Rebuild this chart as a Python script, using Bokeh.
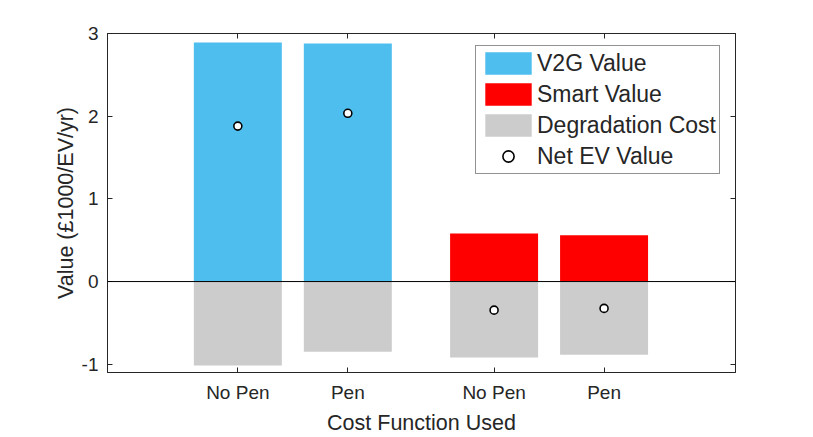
from bokeh.plotting import figure
from bokeh.models import (Range1d, FixedTicker, LinearAxis, Span, Legend,
                          LegendItem, ColumnDataSource)
from bokeh.embed import file_html
from bokeh.resources import INLINE

# ---- data ----
positions = [1, 2, 3.33, 4.33]
tick_labels = ["No Pen", "Pen", "No Pen", "Pen"]
v2g_value = [2.89, 2.88, 0.0, 0.0]
smart_value = [0.0, 0.0, 0.58, 0.56]
degradation_cost = [-1.015, -0.848, -0.92, -0.884]
net_ev_value = [1.88, 2.035, -0.346, -0.325]
y_ticks = [-1, 0, 1, 2, 3]
y_tick_labels = ["-1", "0", "1", "2", "3"]

FONT = "Liberation Sans"
TXT = "#262626"

src = ColumnDataSource(dict(x=positions, v2g=v2g_value, smart=smart_value,
                            deg=degradation_cost, net=net_ev_value))

p = figure(width=813, height=437,
           x_range=Range1d(-0.185, 5.525), y_range=Range1d(-1.1, 3),
           output_backend="svg", toolbar_location=None,
           min_border_left=107, min_border_right=78,
           min_border_top=33, min_border_bottom=64)

p.xgrid.visible = False
p.ygrid.visible = False
p.outline_line_color = TXT
p.outline_line_width = 1
p.background_fill_color = "white"
p.border_fill_color = "white"

r_v2g = p.vbar(x="x", top="v2g", bottom=0, width=0.8, source=src,
               fill_color="#4DBEEE", line_color=None)
r_smart = p.vbar(x="x", top="smart", bottom=0, width=0.8, source=src,
                 fill_color="#FF0000", line_color=None)
r_deg = p.vbar(x="x", top=0, bottom="deg", width=0.8, source=src,
               fill_color="#CCCCCC", line_color=None)

p.add_layout(Span(location=0, dimension="width", line_color="black",
                  line_width=1))

r_net = p.scatter(x="x", y="net", source=src, size=8, marker="circle",
                  fill_color="white", line_color="black", line_width=1.6)

# bottom axis
xa = p.xaxis[0]
xa.ticker = FixedTicker(ticks=positions)
xa.major_label_overrides = {pos: lab for pos, lab in zip(positions, tick_labels)}
xa.axis_label = "Cost Function Used"

# left axis
ya = p.yaxis[0]
ya.ticker = FixedTicker(ticks=y_ticks)
ya.major_label_overrides = {t: lab for t, lab in zip(y_ticks, y_tick_labels)}
ya.axis_label = "Value (£1000/EV/yr)"

for ax in (xa, ya):
    ax.major_tick_in = 5
    ax.major_tick_out = 0
    ax.minor_tick_line_color = None
    ax.axis_line_color = TXT
    ax.major_tick_line_color = TXT
    ax.major_label_text_font = FONT
    ax.major_label_text_font_size = "19px"
    ax.major_label_text_color = TXT
    ax.axis_label_text_font = FONT
    ax.axis_label_text_font_size = "21.5px"
    ax.axis_label_text_font_style = "normal"
    ax.axis_label_text_color = TXT
    ax.major_label_standoff = 9

xa.axis_label_standoff = 5
ya.axis_label_standoff = 1

# mirrored axes (box with ticks, no labels)
top = LinearAxis(ticker=FixedTicker(ticks=positions))
right = LinearAxis(ticker=FixedTicker(ticks=y_ticks))
for ax in (top, right):
    ax.major_tick_in = 5
    ax.major_tick_out = 0
    ax.minor_tick_line_color = None
    ax.axis_line_color = TXT
    ax.major_tick_line_color = TXT
    ax.major_label_text_color = None
    ax.major_label_text_alpha = 0
    ax.major_label_text_font_size = "0px"
    ax.major_label_standoff = 0
p.add_layout(top, "above")
p.add_layout(right, "right")

legend = Legend(items=[
    LegendItem(label="V2G Value", renderers=[r_v2g]),
    LegendItem(label="Smart Value", renderers=[r_smart]),
    LegendItem(label="Degradation Cost", renderers=[r_deg]),
    LegendItem(label="Net EV Value", renderers=[r_net]),
], location=(368, 198))
legend.label_text_font = FONT
legend.label_text_font_size = "23px"
legend.label_text_color = TXT
legend.glyph_width = 58
legend.glyph_height = 28
legend.label_height = 28
legend.spacing = 3
legend.padding = 3
legend.margin = 0
legend.label_standoff = 0
legend.border_line_color = TXT
legend.border_line_width = 1
legend.background_fill_color = "white"
legend.background_fill_alpha = 1
p.add_layout(legend)

open("out.html", "w").write(file_html(p, INLINE))
